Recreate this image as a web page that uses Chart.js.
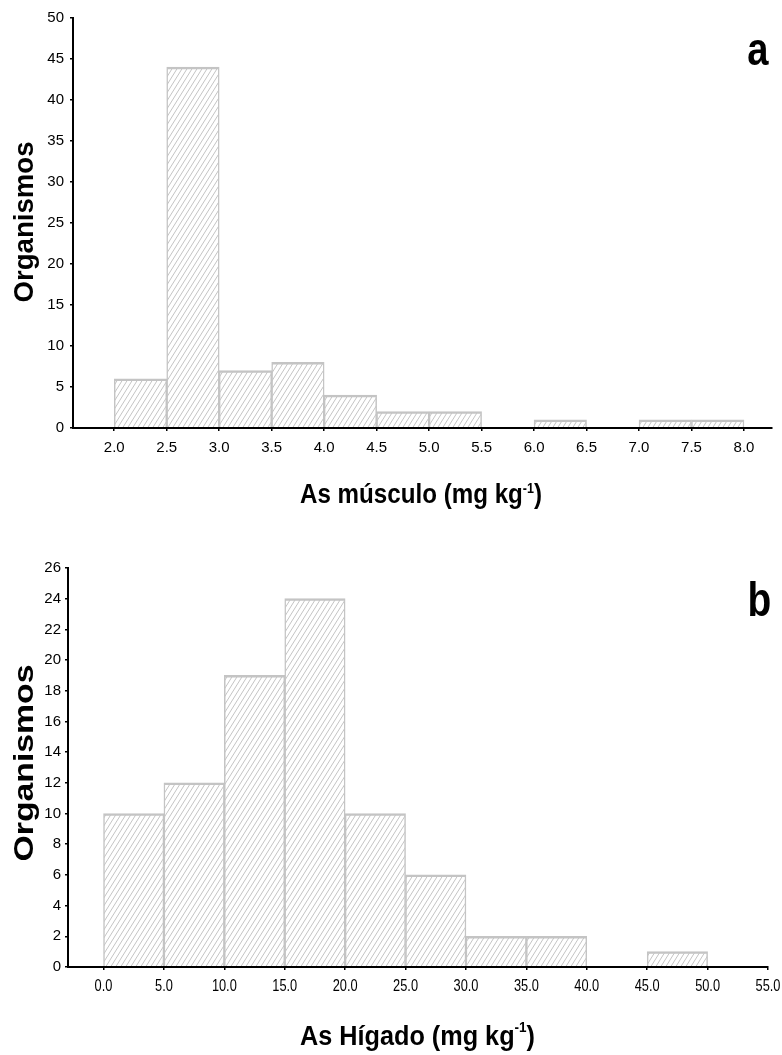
<!DOCTYPE html>
<html>
<head>
<meta charset="utf-8">
<script src="https://cdn.jsdelivr.net/npm/chart.js@4.4.1/dist/chart.umd.min.js"></script>
<style>
  html, body { margin: 0; padding: 0; background: #fff; }
  #wrap { position: relative; width: 782px; height: 1055px; }
  canvas { position: absolute; left: 0; }
  #cA { top: 0; }
  #cB { top: 520px; }
</style>
</head>
<body>
<div id="wrap">
  <canvas id="cA" width="782" height="520"></canvas>
  <canvas id="cB" width="782" height="535"></canvas>
</div>
<script>
// ═══ DATA — panel a: As músculo ═══
const musculoBinStart = [2.0, 2.5, 3.0, 3.5, 4.0, 4.5, 5.0, 5.5, 6.0, 6.5, 7.0, 7.5];
const musculoCounts   = [6, 44, 7, 8, 4, 2, 2, 0, 1, 0, 1, 1];
const musculoXTicks   = [2.0, 2.5, 3.0, 3.5, 4.0, 4.5, 5.0, 5.5, 6.0, 6.5, 7.0, 7.5, 8.0];
const musculoBinWidth = 0.5;

// ═══ DATA — panel b: As hígado ═══
const higadoBinStart = [0, 5, 10, 15, 20, 25, 30, 35, 40, 45, 50];
const higadoCounts   = [10, 12, 19, 24, 10, 6, 2, 2, 0, 1, 0];
const higadoXTicks   = [0, 5, 10, 15, 20, 25, 30, 35, 40, 45, 50, 55];
const higadoBinWidth = 5;

const SANS = "'Liberation Sans', Arial, sans-serif";

// Diagonal "/" hatch used as bar fill (lines run past the tile edges so corners join up)
function hatchPattern(ctx) {
  const W = 5, H = 8;
  const c = document.createElement("canvas");
  c.width = W; c.height = H;
  const g = c.getContext("2d");
  g.fillStyle = "#fff";
  g.fillRect(0, 0, W, H);
  g.strokeStyle = "#c4c4c4";
  g.lineWidth = 1;
  g.beginPath();
  for (let k = -1; k <= 1; k++) {
    g.moveTo(-W + W * k, 2 * H);
    g.lineTo(2 * W + W * k, -H);
  }
  g.stroke();
  return ctx.createPattern(c, "repeat");
}

function toBars(starts, counts, w) {
  return starts.map((s, i) => ({ x: s + w / 2, y: counts[i] > 0 ? counts[i] : null }));
}

// text helpers
function drawAxisTitle(ctx, o) {
  ctx.save();
  ctx.fillStyle = "#000";
  ctx.textBaseline = "alphabetic";
  ctx.textAlign = "left";
  ctx.font = `bold ${o.size}px ${SANS}`;
  const w1 = ctx.measureText(o.main).width;
  const w3 = ctx.measureText(o.end).width;
  ctx.font = `bold ${o.supSize}px ${SANS}`;
  const w2 = ctx.measureText(o.sup).width;
  const sx = (o.right - o.left) / (w1 + w2 + w3);
  ctx.translate(o.left, o.base);
  ctx.scale(sx, 1);
  ctx.font = `bold ${o.size}px ${SANS}`;
  ctx.fillText(o.main, 0, 0);
  ctx.fillText(o.end, w1 + w2, 0);
  ctx.font = `bold ${o.supSize}px ${SANS}`;
  ctx.fillText(o.sup, w1, -o.rise);
  ctx.restore();
}

function drawYTitle(ctx, o) {
  ctx.save();
  ctx.fillStyle = "#000";
  ctx.font = `bold ${o.size}px ${SANS}`;
  ctx.textAlign = "center";
  ctx.textBaseline = "alphabetic";
  const w = ctx.measureText(o.text).width;
  ctx.translate(o.base, o.center);
  ctx.rotate(-Math.PI / 2);
  ctx.scale(o.length / w, 1);
  ctx.fillText(o.text, 0, 0);
  ctx.restore();
}

function drawLetter(ctx, o) {
  ctx.save();
  ctx.fillStyle = "#000";
  ctx.textAlign = "left";
  ctx.textBaseline = "alphabetic";
  ctx.font = `bold 100px ${SANS}`;
  const m = ctx.measureText(o.text);
  const h100 = m.actualBoundingBoxAscent + m.actualBoundingBoxDescent;
  const size = 100 * (o.bottom - o.top) / h100;
  ctx.font = `bold ${size}px ${SANS}`;
  const mm = ctx.measureText(o.text);
  const inkW = mm.actualBoundingBoxLeft + mm.actualBoundingBoxRight;
  const sx = (o.right - o.left) / inkW;
  ctx.translate(o.left, o.bottom - mm.actualBoundingBoxDescent);
  ctx.scale(sx, 1);
  ctx.fillText(o.text, mm.actualBoundingBoxLeft, 0);
  ctx.restore();
}

// condensed x tick labels (panel b uses a narrow face)
function drawCondensedTicks(chart, o) {
  const ctx = chart.ctx;
  const sc = chart.scales.x;
  ctx.save();
  ctx.fillStyle = "#000";
  ctx.font = `${o.size}px ${SANS}`;
  ctx.textAlign = "center";
  ctx.textBaseline = "middle";
  sc.ticks.forEach(t => {
    const px = sc.getPixelForValue(t.value);
    ctx.save();
    ctx.translate(px, o.y);
    ctx.scale(o.sx, 1);
    ctx.fillText(Number(t.value).toFixed(1), 0, 0);
    ctx.restore();
  });
  ctx.restore();
}

const annotPlugin = {
  id: "annot",
  afterDraw(chart, args, o) {
    const ctx = chart.ctx;
    if (o.xTickText) drawCondensedTicks(chart, o.xTickText);
    drawAxisTitle(ctx, o.xTitle);
    drawYTitle(ctx, o.yTitle);
    drawLetter(ctx, o.letter);
  }
};

function histogram(canvasId, cfg) {
  const canvas = document.getElementById(canvasId);
  const ctx = canvas.getContext("2d");
  return new Chart(canvas, {
    type: "bar",
    data: {
      datasets: [{
        data: toBars(cfg.starts, cfg.counts, cfg.binWidth),
        backgroundColor: hatchPattern(ctx),
        borderColor: "#c4c4c4",
        borderWidth: { top: 2.5, left: 1.5, right: 1.5, bottom: 0 },
        borderSkipped: "start",
        barPercentage: 1,
        categoryPercentage: 1
      }]
    },
    options: {
      responsive: false,
      animation: false,
      devicePixelRatio: 1,
      layout: { padding: { top: cfg.area.top, right: canvas.width - cfg.area.right, left: 0, bottom: 0 } },
      plugins: {
        legend: { display: false },
        tooltip: { enabled: false },
        annot: cfg.annot
      },
      scales: {
        x: {
          type: "linear",
          min: cfg.xMin, max: cfg.xMax,
          offset: false,
          afterBuildTicks: s => { s.ticks = cfg.xTicks.map(v => ({ value: v })); },
          afterFit: s => { s.height = canvas.height - cfg.area.bottom; },
          grid: { offset: false, drawOnChartArea: false, drawTicks: true, tickLength: 3, color: "#000", lineWidth: 1.5 },
          border: { display: true, color: "#000", width: 2, z: 1 },
          ticks: {
            display: !cfg.annot.xTickText,
            autoSkip: false, maxRotation: 0, padding: cfg.xPad,
            color: "#000", font: cfg.xFont,
            callback: v => Number(v).toFixed(1)
          }
        },
        y: {
          min: 0, max: cfg.yMax,
          afterFit: s => { s.width = cfg.area.left; },
          grid: { drawOnChartArea: false, drawTicks: true, tickLength: 3, color: "#000", lineWidth: 1.5 },
          border: { display: true, color: "#000", width: 2, z: 1 },
          ticks: { stepSize: cfg.yStep, padding: cfg.yPad, color: "#000", font: cfg.yFont }
        }
      }
    },
    plugins: [annotPlugin]
  });
}

// ═══ PANEL A ═══
histogram("cA", {
  starts: musculoBinStart, counts: musculoCounts, binWidth: musculoBinWidth,
  xTicks: musculoXTicks, xMin: 1.607, xMax: 8.267, yMax: 50, yStep: 5,
  area: { left: 73, right: 772, top: 18, bottom: 428 },
  xPad: 8, yPad: 6,
  xFont: { size: 15, family: SANS }, yFont: { size: 15, family: SANS },
  annot: {
    xTitle: { main: "As músculo (mg kg", sup: "-1", end: ")", size: 27, supSize: 14, rise: 10, left: 300, right: 542, base: 503 },
    yTitle: { text: "Organismos", size: 28, base: 33, center: 222, length: 161 },
    letter: { text: "a", left: 748, right: 769, top: 40, bottom: 65 }
  }
});

// ═══ PANEL B ═══ (canvas starts at page y = 520)
histogram("cB", {
  starts: higadoBinStart, counts: higadoCounts, binWidth: higadoBinWidth,
  xTicks: higadoXTicks, xMin: -2.94, xMax: 55, yMax: 26, yStep: 2,
  area: { left: 68, right: 768, top: 48, bottom: 447 },
  xPad: 7, yPad: 4,
  xFont: { size: 16, family: SANS }, yFont: { size: 15, family: SANS },
  annot: {
    xTickText: { size: 16, sx: 0.8, y: 467 },
    xTitle: { main: "As Hígado (mg kg", sup: "-1", end: ")", size: 28, supSize: 15, rise: 13, left: 300, right: 535, base: 525 },
    yTitle: { text: "Organismos", size: 28, base: 33, center: 243, length: 197 },
    letter: { text: "b", left: 750, right: 770, top: 60, bottom: 96 }
  }
});
</script>
</body>
</html>
